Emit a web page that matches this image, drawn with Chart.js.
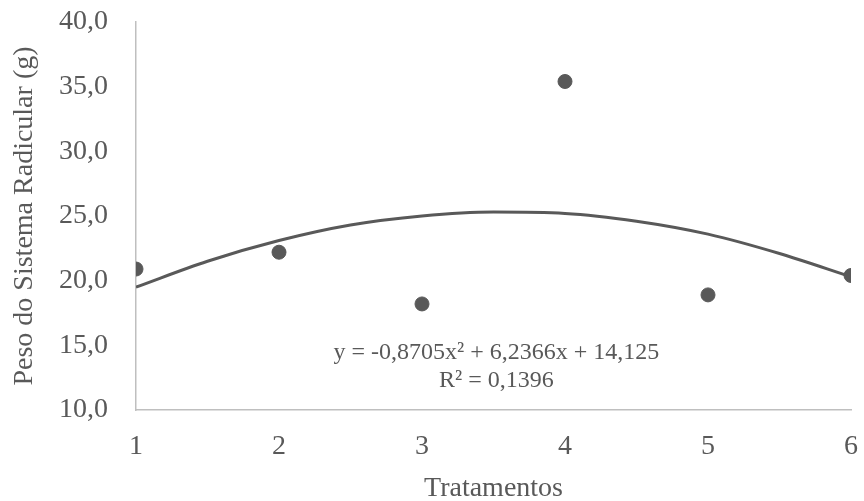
<!DOCTYPE html>
<html>
<head>
<meta charset="utf-8">
<script src="https://cdn.jsdelivr.net/npm/chart.js@4"></script>
<style>
  html, body { margin: 0; padding: 0; background: #fff; }
  #wrap { width: 864px; height: 501px; }
</style>
</head>
<body>
<div id="wrap"><canvas id="chart"></canvas></div>
<script>
// observed values
const tratamentos = [1, 2, 3, 4, 5, 6];
const pesoRadicular = [20.9, 22.2, 18.2, 35.4, 18.9, 20.4];

// polynomial trend line
const trendX = [1, 1.5, 2, 2.5, 3, 3.5, 4, 4.5, 5, 5.5, 6];
const trendY = [19.5, 21.5, 23.1, 24.3, 25.0, 25.3, 25.2, 24.6, 23.6, 22.1, 20.3];

const yTicks = [10, 15, 20, 25, 30, 35, 40];
const equationLines = ["y = -0,8705x\u00B2 + 6,2366x + 14,125", "R\u00B2 = 0,1396"];

const textColor = "#595959";
const axisColor = "#bfbfbf";
const fontFamily = "'Liberation Serif', 'Times New Roman', serif";

const equationLabel = {
  id: "equationLabel",
  afterDatasetsDraw(chart) {
    const { ctx, scales } = chart;
    const cx = scales.x.getPixelForValue(3.52);
    const y0 = scales.y.getPixelForValue(14.45);
    ctx.save();
    ctx.fillStyle = textColor;
    ctx.font = "24px " + fontFamily;
    ctx.textAlign = "center";
    ctx.textBaseline = "middle";
    ctx.fillText(equationLines[0], cx, y0);
    ctx.fillText(equationLines[1], cx, y0 + 28);
    ctx.restore();
  },
};

new Chart(document.getElementById("chart").getContext("2d"), {
  type: "scatter",
  data: {
    datasets: [
      {
        label: "Trend",
        type: "line",
        data: trendX.map((x, i) => ({ x: x, y: trendY[i] })),
        borderColor: textColor,
        borderWidth: 3,
        pointRadius: 0,
        tension: 0.4,
        cubicInterpolationMode: "monotone",
        fill: false,
        order: 2,
      },
      {
        label: "Peso",
        data: tratamentos.map((x, i) => ({ x: x, y: pesoRadicular[i] })),
        backgroundColor: textColor,
        borderColor: textColor,
        pointRadius: 7,
        order: 1,
      },
    ],
  },
  options: {
    responsive: true,
    maintainAspectRatio: false,
    animation: false,
    layout: { padding: { top: 22, right: 13, left: 0, bottom: 0 } },
    plugins: {
      legend: { display: false },
      tooltip: { enabled: false },
    },
    scales: {
      x: {
        type: "linear",
        min: 1,
        max: 6,
        ticks: {
          stepSize: 1,
          color: textColor,
          font: { family: fontFamily, size: 28 },
          padding: 20,
        },
        grid: { drawOnChartArea: false, drawTicks: false },
        border: { color: axisColor, width: 1.5 },
        title: {
          display: true,
          text: "Tratamentos",
          color: textColor,
          font: { family: fontFamily, size: 28 },
          padding: { top: 0, bottom: -4 },
        },
        afterFit(scale) {
          scale.height = 91;
          scale.paddingLeft = 0;
          scale.paddingRight = 0;
        },
      },
      y: {
        min: 10,
        max: 40,
        afterBuildTicks(scale) {
          scale.ticks = yTicks.map((v) => ({ value: v }));
        },
        ticks: {
          color: textColor,
          font: { family: fontFamily, size: 28 },
          padding: 28,
          callback: (v) => v.toFixed(1).replace(".", ","),
        },
        grid: { drawOnChartArea: false, drawTicks: false },
        border: { color: axisColor, width: 1.5 },
        title: {
          display: true,
          text: "Peso do Sistema Radicular (g)",
          color: textColor,
          font: { family: fontFamily, size: 28 },
          padding: { top: 8, bottom: 8 },
        },
        afterFit(scale) {
          scale.width = 136;
          scale.paddingTop = 0;
          scale.paddingBottom = 0;
        },
      },
    },
  },
  plugins: [equationLabel],
});
</script>
</body>
</html>
